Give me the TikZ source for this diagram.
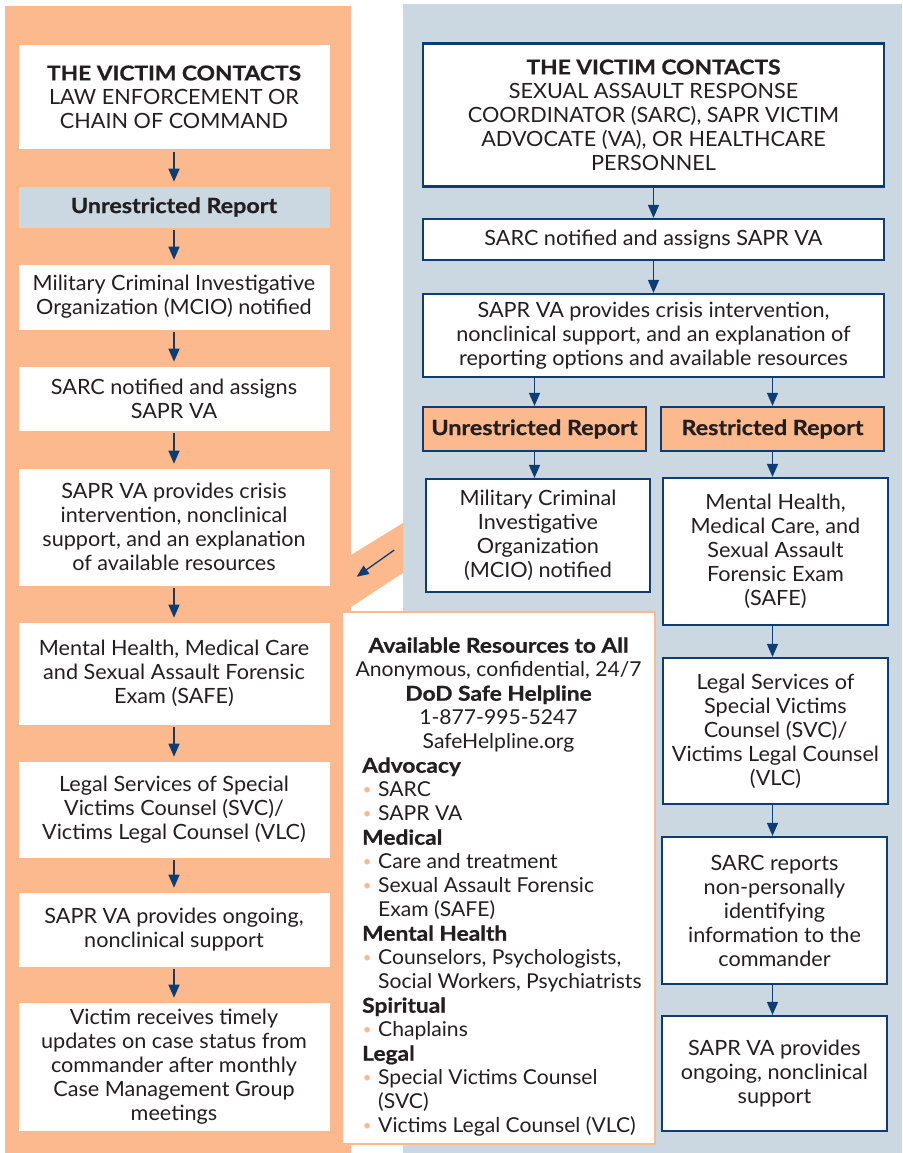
\documentclass[tikz,border=0pt]{standalone}
\usepackage{fontspec}
\setmainfont{Lato}[FakeStretch=1.03, BoldFeatures={FakeStretch=1.11, FakeBold=0.8}]
\usetikzlibrary{arrows.meta}
\definecolor{peach}{HTML}{FDB98E}
\definecolor{paleblue}{HTML}{CBD8E2}
\definecolor{navy}{HTML}{0D3D73}
\definecolor{ink}{HTML}{231F20}
\begin{document}
\begin{tikzpicture}[x=1pt,y=-1pt,
  every node/.style={text=ink, font=\fontsize{21}{24}\selectfont},
  lbox/.style={fill=white, draw=white, line width=0.6, align=center, inner sep=0},
  rbox/.style={fill=white, draw=navy, line width=2.2, align=center, inner sep=0},
  obox/.style={fill=peach, draw=navy, line width=2.2, align=center, inner sep=0},
  arr/.style={draw=navy, line width=1.5, -{Triangle[width=11,length=13]}},
  larr/.style={arr, shorten <=3, shorten >=5},
  res/.style={inner sep=0, font=\fontsize{20.5}{24}\selectfont},
  dot/.style={fill=peach}
]
\useasboundingbox (0,0) rectangle (902,1153);
% panels
\fill[peach] (5,6) rectangle (351,1153);
\fill[paleblue] (403,4) rectangle (902,1153);
\fill[peach] (351,555) -- (403,523) -- (403,573) -- (351,607) -- cycle;

% left column
\node[lbox, minimum width=310, minimum height=103] (l1) at (174,97)
  {\fontsize{20.5}{24}\selectfont\textbf{THE VICTIM CONTACTS}\\\fontsize{21}{24}\selectfont LAW ENFORCEMENT OR\\CHAIN OF COMMAND};
\node[lbox, fill=paleblue, draw=paleblue, minimum width=310, minimum height=40] (l2) at (174,207)
  {\textbf{Unrestricted Report}};
\node[lbox, minimum width=310, minimum height=64] (l3) at (174,297)
  {Military Criminal Investigative\\Organization (MCIO) notified};
\node[lbox, minimum width=310, minimum height=63] (l4) at (174,398.5)
  {SARC notified and assigns\\SAPR VA};
\node[lbox, minimum width=310, minimum height=116] (l5) at (174,527)
  {SAPR VA provides crisis\\intervention, nonclinical\\support, and an explanation\\of available resources};
\node[lbox, minimum width=310, minimum height=101] (l6) at (174,673.5)
  {Mental Health, Medical Care\\and Sexual Assault Forensic\\Exam (SAFE)};
\node[lbox, minimum width=310, minimum height=95] (l7) at (174,809.5)
  {Legal Services of Special\\Victims Counsel (SVC)/\\Victims Legal Counsel (VLC)};
\node[lbox, minimum width=310, minimum height=73] (l8) at (174,929.5)
  {SAPR VA provides ongoing,\\nonclinical support};
\node[lbox, minimum width=310, minimum height=127] (l9) at (174,1066.5)
  {Victim receives timely\\updates on case status from\\commander after monthly\\Case Management Group\\meetings};
\foreach \a/\b in {l1/l2,l2/l3,l3/l4,l4/l5,l5/l6,l6/l7,l7/l8,l8/l9}
  \draw[larr] (\a) -- (\b);

% link arrow between panels
\coordinate (ls) at (394.3,550);
\coordinate (le) at (356.7,576.7);
\draw[draw=navy, line width=1.3, -{Triangle[width=10,length=12]}] (ls) -- (le);

% right column
\node[rbox, minimum width=461, minimum height=143] (r1) at (653.5,115)
  {\fontsize{20.5}{24}\selectfont\textbf{THE VICTIM CONTACTS}\\\fontsize{21}{24}\selectfont SEXUAL ASSAULT RESPONSE\\COORDINATOR (SARC), SAPR VICTIM\\ADVOCATE (VA), OR HEALTHCARE\\PERSONNEL};
\node[rbox, minimum width=461, minimum height=41] (r2) at (653.5,239.5)
  {SARC notified and assigns SAPR VA};
\node[rbox, minimum width=461, minimum height=83] (r3) at (653.5,335.5)
  {SAPR VA provides crisis intervention,\\nonclinical support, and an explanation of\\reporting options and available resources};
\node[obox, minimum width=223, minimum height=44] (ur) at (534.5,429)
  {\textbf{Unrestricted Report}};
\node[obox, minimum width=223, minimum height=44] (rr) at (772.5,429)
  {\textbf{Restricted Report}};
\node[rbox, minimum width=224, minimum height=113] (um) at (538,535.5)
  {Military Criminal\\Investigative\\Organization\\(MCIO) notified};
\node[rbox, minimum width=225, minimum height=147] (m1) at (775.5,551.5)
  {Mental Health,\\Medical Care, and\\Sexual Assault\\Forensic Exam\\(SAFE)};
\node[rbox, minimum width=225, minimum height=146] (m2) at (775.5,731)
  {Legal Services of\\Special Victims\\Counsel (SVC)/\\Victims Legal Counsel\\(VLC)};
\node[rbox, minimum width=225, minimum height=147] (m3) at (774.5,910.5)
  {SARC reports\\non-personally\\identifying\\information to the\\commander};
\node[rbox, minimum width=225, minimum height=115] (m4) at (774.5,1073.5)
  {SAPR VA provides\\ongoing, nonclinical\\support};

\draw[arr] (r1) -- (r2);
\draw[arr] (r2) -- (r3);
\draw[arr] (r3.south -| ur.south) -- (ur.north);
\draw[arr] (r3.south -| rr.south) -- (rr.north);
\draw[arr] (ur.south) -- (ur.south |- um.north);
\draw[arr] (rr.south) -- (rr.south |- m1.north);
\draw[arr] (m1.south -| rr.south) -- (m2.north -| rr.south);
\draw[arr] (m2.south -| rr.south) -- (m3.north -| rr.south);
\draw[arr] (m3.south -| rr.south) -- (m4.north -| rr.south);

% resources box
\node[fill=white, draw=peach, line width=2, minimum width=313, minimum height=532, inner sep=0] (rb) at (498.5,878) {};
\node[res, anchor=base] (t1) at (498.5,652.7) {\textbf{Available Resources to All}};
\node[res, anchor=base] (t2) at (498.5,676.7) {Anonymous, confidential, 24/7};
\node[res, anchor=base] (t3) at (498.5,700.7) {\textbf{DoD Safe Helpline}};
\node[res, anchor=base] (t4) at (498.5,724.7) {1-877-995-5247};
\node[res, anchor=base] (t5) at (498.5,748.7) {SafeHelpline.org};
\node[res, anchor=base west] (t6) at (362,772.7) {\textbf{Advocacy}};
\node[res, anchor=base west] (t7) at (378,796.7) {SARC};
\node[res, anchor=base west] (t8) at (378,820.7) {SAPR VA};
\node[res, anchor=base west] (t9) at (362,844.7) {\textbf{Medical}};
\node[res, anchor=base west] (t10) at (378,868.7) {Care and treatment};
\node[res, anchor=base west] (t11) at (378,892.7) {Sexual Assault Forensic};
\node[res, anchor=base west] (t12) at (378,916.7) {Exam (SAFE)};
\node[res, anchor=base west] (t13) at (362,940.7) {\textbf{Mental Health}};
\node[res, anchor=base west] (t14) at (378,964.7) {Counselors, Psychologists,};
\node[res, anchor=base west] (t15) at (378,988.7) {Social Workers, Psychiatrists};
\node[res, anchor=base west] (t16) at (362,1012.7) {\textbf{Spiritual}};
\node[res, anchor=base west] (t17) at (378,1036.7) {Chaplains};
\node[res, anchor=base west] (t18) at (362,1060.7) {\textbf{Legal}};
\node[res, anchor=base west] (t19) at (378,1084.7) {Special Victims Counsel};
\node[res, anchor=base west] (t20) at (378,1108.7) {(SVC)};
\node[res, anchor=base west] (t21) at (378,1132.7) {Victims Legal Counsel (VLC)};
\foreach \yy in {796.7,820.7,868.7,892.7,964.7,1036.7,1084.7,1132.7}
  \fill[dot] (367,\yy-7) circle (2.8);
\end{tikzpicture}
\end{document}
